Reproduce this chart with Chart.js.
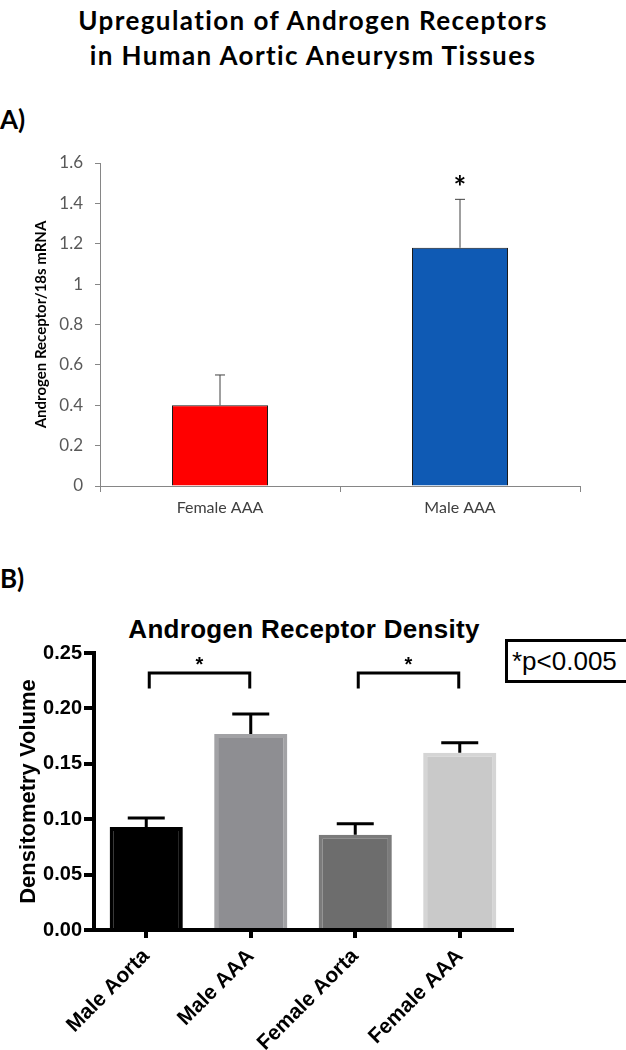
<!DOCTYPE html>
<html>
<head>
<meta charset="utf-8">
<script src="https://cdn.jsdelivr.net/npm/chart.js@4.4.1/dist/chart.umd.min.js"></script>
<style>
  body { margin: 0; width: 626px; height: 1050px; position: relative; background: #fff; overflow: hidden; }
  .txt { position: absolute; color: #000; white-space: nowrap; }
  #mainTitle { left: 0; top: 3px; width: 626px; text-align: center; font: bold 26px/35px Lato, sans-serif; letter-spacing: 1.4px; }
  #labA { left: 0; top: 103px; font: bold 26px Lato, sans-serif; }
  #labB { left: 0; top: 562px; font: bold 26px Lato, sans-serif; }
  #titleB { left: 0; top: 614px; width: 608px; text-align: center; font: bold 26px "Liberation Sans", Arial, sans-serif; letter-spacing: 0.3px; }
  #pBox { left: 505px; top: 639px; width: 140px; height: 38px; border: 3px solid #000; font: 26px/38px "Liberation Sans", Arial, sans-serif; padding-left: 4px; }
  .wrap { position: absolute; left: 0; width: 626px; }
  #wrapA { top: 140px; height: 400px; }
  #wrapB { top: 600px; height: 450px; }
</style>
</head>
<body>
<div id="mainTitle" class="txt">Upregulation of Androgen Receptors<br>in Human Aortic Aneurysm Tissues</div>
<div id="labA" class="txt">A)</div>
<div id="labB" class="txt">B)</div>
<div id="titleB" class="txt">Androgen Receptor Density</div>
<div id="pBox" class="txt">*p&lt;0.005</div>
<div id="wrapA" class="wrap"><canvas id="chartA"></canvas></div>
<div id="wrapB" class="wrap"><canvas id="chartB"></canvas></div>
<script>
  // panel A
  const catsA = ["Female AAA", "Male AAA"];
  const meansA = [0.40, 1.18];
  const errA = [0.15, 0.24];
  const yTicksA = ["0", "0.2", "0.4", "0.6", "0.8", "1", "1.2", "1.4", "1.6"];
  const starA = [null, 1.505];

  // panel B
  const catsB = ["Male Aorta", "Male AAA", "Female Aorta", "Female AAA"];
  const meansB = [0.093, 0.177, 0.086, 0.160];
  const errB = [0.008, 0.018, 0.010, 0.009];
  const yTicksB = ["0.00", "0.05", "0.10", "0.15", "0.20", "0.25"];
  const sigPairsB = [[0, 1], [2, 3]];
  const sigTopB = 0.232, sigLegB = 0.218, sigStarB = 0.243;

  function errorBars(err, color, width, cap) {
    return {
      id: "errorBars",
      afterDatasetsDraw(chart) {
        const { ctx, scales: { y } } = chart;
        const meta = chart.getDatasetMeta(0);
        const vals = chart.data.datasets[0].data;
        ctx.save();
        ctx.strokeStyle = color;
        ctx.lineWidth = width;
        meta.data.forEach((bar, i) => {
          const top = y.getPixelForValue(vals[i] + err[i]);
          ctx.beginPath();
          ctx.moveTo(bar.x, y.getPixelForValue(vals[i]));
          ctx.lineTo(bar.x, top);
          ctx.moveTo(bar.x - cap / 2, top);
          ctx.lineTo(bar.x + cap / 2, top);
          ctx.stroke();
        });
        ctx.restore();
      },
    };
  }

  const starsA = {
    id: "starsA",
    afterDatasetsDraw(chart) {
      const { ctx, scales: { y } } = chart;
      const meta = chart.getDatasetMeta(0);
      ctx.save();
      ctx.fillStyle = "#000";
      ctx.font = "bold 30px Lato";
      ctx.textAlign = "center";
      ctx.textBaseline = "middle";
      starA.forEach((v, i) => {
        if (v == null) return;
        ctx.fillText("*", meta.data[i].x, y.getPixelForValue(v) + 6);
      });
      ctx.restore();
    },
  };

  const bracketsB = {
    id: "bracketsB",
    afterDatasetsDraw(chart) {
      const { ctx, scales: { y } } = chart;
      const meta = chart.getDatasetMeta(0);
      ctx.save();
      ctx.strokeStyle = "#000";
      ctx.lineWidth = 3;
      ctx.fillStyle = "#000";
      ctx.font = "bold 20px 'Liberation Sans'";
      ctx.textAlign = "center";
      ctx.textBaseline = "middle";
      sigPairsB.forEach(([a, b]) => {
        const x1 = meta.data[a].x + 3, x2 = meta.data[b].x - 1;
        const yt = y.getPixelForValue(sigTopB), yl = y.getPixelForValue(sigLegB);
        ctx.beginPath();
        ctx.moveTo(x1, yl);
        ctx.lineTo(x1, yt);
        ctx.lineTo(x2, yt);
        ctx.lineTo(x2, yl);
        ctx.stroke();
        ctx.fillText("*", (x1 + x2) / 2, y.getPixelForValue(sigStarB) + 5);
      });
      ctx.restore();
    },
  };

  const grayA = "#868686";
  new Chart(document.getElementById("chartA"), {
    type: "bar",
    data: {
      labels: catsA,
      datasets: [{
        data: meansA,
        backgroundColor: ["#ff0000", "#0f5ab4"],
        borderColor: "#1a1a1a",
        borderWidth: 1,
        barPercentage: 0.4,
        categoryPercentage: 1,
      }],
    },
    options: {
      responsive: true,
      maintainAspectRatio: false,
      animation: false,
      layout: { padding: { top: 23, right: 46, left: 0, bottom: 0 } },
      plugins: { legend: { display: false }, tooltip: { enabled: false } },
      scales: {
        x: {
          afterFit: (s) => { s.height = 54; },
          grid: { drawOnChartArea: false, color: grayA, tickLength: 6 },
          border: { color: grayA },
          ticks: { color: "#404040", font: { family: "Lato", size: 16 }, padding: 6 },
        },
        y: {
          min: 0,
          max: 1.6,
          afterFit: (s) => { s.width = 100; },
          grid: { drawOnChartArea: false, color: grayA, tickLength: 5 },
          border: { color: grayA },
          ticks: {
            stepSize: 0.2,
            color: "#595959",
            font: { family: "Lato", size: 17 },
            padding: 12,
            callback: (v, i) => yTicksA[i],
          },
          title: {
            display: true,
            text: "Androgen Receptor/18s mRNA",
            color: "#000",
            font: { family: "Lato", size: 15, weight: "bold" },
            padding: { top: 32, bottom: 0 },
          },
        },
      },
    },
    plugins: [errorBars(errA, "#404040", 1, 10), starsA],
  });

  new Chart(document.getElementById("chartB"), {
    type: "bar",
    data: {
      labels: catsB,
      datasets: [{
        data: meansB,
        backgroundColor: ["#000000", "#8e8e92", "#6d6d6d", "#c9c9c9"],
        borderColor: ["#000000", "#a2a2a5", "#7b7b7b", "#d5d5d5"],
        borderWidth: { top: 4, left: 4, right: 4, bottom: 0 },
        barPercentage: 0.7,
        categoryPercentage: 1,
      }],
    },
    options: {
      responsive: true,
      maintainAspectRatio: false,
      animation: false,
      layout: { padding: { top: 53, right: 114, left: 0, bottom: 0 } },
      plugins: { legend: { display: false }, tooltip: { enabled: false } },
      scales: {
        x: {
          afterFit: (s) => { s.height = 120; },
          grid: { offset: false, drawOnChartArea: false, color: "#000", lineWidth: 4, tickLength: 8 },
          border: { color: "#000", width: 4 },
          ticks: {
            color: "#000",
            font: { family: "Liberation Sans", size: 21, weight: "bold" },
            maxRotation: 45,
            minRotation: 45,
            padding: 6,
          },
        },
        y: {
          min: 0,
          max: 0.25,
          afterFit: (s) => { s.width = 94; },
          grid: { drawOnChartArea: false, color: "#000", lineWidth: 4, tickLength: 10 },
          border: { color: "#000", width: 4 },
          ticks: {
            stepSize: 0.05,
            color: "#000",
            font: { family: "Liberation Sans", size: 20, weight: "bold" },
            padding: 2,
            callback: (v, i) => yTicksB[i],
          },
          title: {
            display: true,
            text: "Densitometry Volume",
            color: "#000",
            font: { family: "Liberation Sans", size: 22, weight: "bold" },
            padding: { top: 16, bottom: 0 },
          },
        },
      },
    },
    plugins: [errorBars(errB, "#000", 3, 37), bracketsB],
  });
</script>
</body>
</html>
